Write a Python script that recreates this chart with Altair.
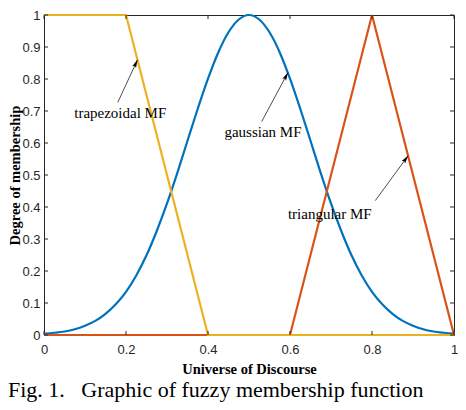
import math
import altair as alt
import pandas as pd

# ---- data ----
x_trap = [0.0, 0.2, 0.4, 1.0]
y_trap = [1.0, 1.0, 0.0, 0.0]

x_tri = [0.0, 0.6, 0.8, 1.0]
y_tri = [0.0, 0.0, 1.0, 0.0]

x_gauss = [0.0, 0.025, 0.05, 0.075, 0.1, 0.125, 0.15, 0.175, 0.2, 0.225,
           0.25, 0.275, 0.3, 0.325, 0.35, 0.375, 0.4, 0.425, 0.45, 0.475,
           0.5, 0.525, 0.55, 0.575, 0.6, 0.625, 0.65, 0.675, 0.7, 0.725,
           0.75, 0.775, 0.8, 0.825, 0.85, 0.875, 0.9, 0.925, 0.95, 0.975, 1.0]
y_gauss = [0.004, 0.007, 0.011, 0.018, 0.029, 0.044, 0.066, 0.096, 0.135, 0.186,
           0.249, 0.325, 0.411, 0.506, 0.607, 0.707, 0.801, 0.883, 0.946, 0.986,
           1.0, 0.986, 0.946, 0.883, 0.801, 0.707, 0.607, 0.506, 0.411, 0.325,
           0.249, 0.186, 0.135, 0.096, 0.066, 0.044, 0.029, 0.018, 0.011, 0.007, 0.004]

x_ticks = [0, 0.2, 0.4, 0.6, 0.8, 1]
y_ticks = [0, 0.1, 0.2, 0.3, 0.4, 0.5, 0.6, 0.7, 0.8, 0.9, 1]

ann_labels = ["trapezoidal MF", "gaussian MF", "triangular MF"]
ann_text_x = [0.186, 0.534, 0.697]
ann_text_y = [0.694, 0.634, 0.378]
ann_start_x = [0.180, 0.531, 0.808]
ann_start_y = [0.727, 0.667, 0.420]
ann_tip_x = [0.228, 0.595, 0.888]
ann_tip_y = [0.860, 0.820, 0.560]

caption = "Fig. 1.\u00a0\u00a0 Graphic of fuzzy membership function"
x_title = "Universe of Discourse"
y_title = "Degree of membership"

# ---- layout (page content must fit in 450 x 394) ----
PAD_L, PAD_T = 36, 7
W, H = 410, 320
PAD_R = 450 - PAD_L - W
PAD_B = 394 - PAD_T - H
AX = "#262626"
SANS = "Liberation Sans"
SERIF = "Liberation Serif"

ann = pd.DataFrame({
    "label": ann_labels, "tx": ann_text_x, "ty": ann_text_y,
    "sx": ann_start_x, "sy": ann_start_y, "ex": ann_tip_x, "ey": ann_tip_y,
})
ann["ang"] = [
    math.degrees(math.atan2((ex - sx) * W, (ey - sy) * H))
    for sx, sy, ex, ey in zip(ann.sx, ann.sy, ann.ex, ann.ey)
]

xs = alt.Scale(domain=[0, 1], nice=False, zero=False)
ys = alt.Scale(domain=[0, 1], nice=False, zero=False)

x_axis = alt.Axis(values=x_ticks, format="~g", title=x_title, domain=False, ticks=False,
                  grid=False, labelFont=SANS, labelFontSize=13, labelColor=AX,
                  labelPadding=8, labelOverlap=False, labelFlush=False,
                  titleFont=SERIF, titleFontSize=14.5, titleFontWeight="bold",
                  titleColor="black", titleBaseline="alphabetic", titleY=38)
y_axis = alt.Axis(values=y_ticks, format="~g", title=y_title, domain=False, ticks=False,
                  grid=False, labelFont=SANS, labelFontSize=13, labelColor=AX,
                  labelPadding=4, labelOverlap=False, labelFlush=False,
                  titleFont=SERIF, titleFontSize=14.5, titleFontWeight="bold",
                  titleColor="black", titleBaseline="alphabetic", titleX=-25, titleAngle=270)


def X(field):
    return alt.X(field, scale=xs, axis=x_axis)


def Y(field):
    return alt.Y(field, scale=ys, axis=y_axis)


gauss = alt.Chart(pd.DataFrame({"x": x_gauss, "y": y_gauss})).mark_line(
    color="#0072BD", strokeWidth=2.2, interpolate="monotone"
).encode(x=X("x:Q"), y=Y("y:Q"))

tri = alt.Chart(pd.DataFrame({"x": x_tri, "y": y_tri})).mark_line(
    color="#D95319", strokeWidth=2.2
).encode(x=X("x:Q"), y=Y("y:Q"))

trap = alt.Chart(pd.DataFrame({"x": x_trap, "y": y_trap})).mark_line(
    color="#EDB120", strokeWidth=2.2
).encode(x=X("x:Q"), y=Y("y:Q"))

xt = pd.DataFrame({"x": x_ticks})
yt = pd.DataFrame({"y": y_ticks})
tick_b = alt.Chart(xt).mark_rule(color=AX, strokeWidth=1).encode(
    x=X("x:Q"), y=alt.value(H), y2=alt.value(H - 4))
tick_t = alt.Chart(xt).mark_rule(color=AX, strokeWidth=1).encode(
    x=X("x:Q"), y=alt.value(0), y2=alt.value(4))
tick_l = alt.Chart(yt).mark_rule(color=AX, strokeWidth=1).encode(
    y=Y("y:Q"), x=alt.value(0), x2=alt.value(4))
tick_r = alt.Chart(yt).mark_rule(color=AX, strokeWidth=1).encode(
    y=Y("y:Q"), x=alt.value(W - 4), x2=alt.value(W))

ann_r = ann.rename(columns={"sx": "x", "sy": "y"})
arrow_line = alt.Chart(ann_r).mark_rule(color="black", strokeWidth=0.7).encode(
    x=X("x:Q"), y=Y("y:Q"), x2="ex:Q", y2="ey:Q")
ann_h = ann.rename(columns={"ex": "x", "ey": "y"})
arrow_head = alt.Chart(ann_h).mark_point(
    shape="M0,0L-0.42,1.6L0,1.3L0.42,1.6Z", filled=True, color="black",
    opacity=1, size=100, strokeWidth=0
).encode(x=X("x:Q"), y=Y("y:Q"), angle=alt.Angle("ang:Q", scale=None))
ann_t = ann.rename(columns={"tx": "x", "ty": "y"})
ann_text = alt.Chart(ann_t).mark_text(
    font=SERIF, fontSize=15, color="black", baseline="middle", align="center"
).encode(x=X("x:Q"), y=Y("y:Q"), text="label:N")

cap = alt.Chart(pd.DataFrame({"t": [caption]})).mark_text(
    font=SERIF, fontSize=22, color="black", align="left", baseline="alphabetic"
).encode(x=alt.value(8 - (8 + PAD_L)), y=alt.value(397 - (8 + PAD_T)), text="t:N")

chart = alt.layer(
    gauss, tri, trap, tick_b, tick_t, tick_l, tick_r,
    arrow_line, arrow_head, ann_text, cap
).properties(
    width=W, height=H,
    autosize=alt.AutoSizeParams(type="none"),
    padding={"left": PAD_L, "top": PAD_T, "right": PAD_R, "bottom": PAD_B},
    background="white",
).configure_view(stroke=AX, strokeWidth=1)

chart.save("out.html", embed_options={"renderer": "svg", "actions": False})
